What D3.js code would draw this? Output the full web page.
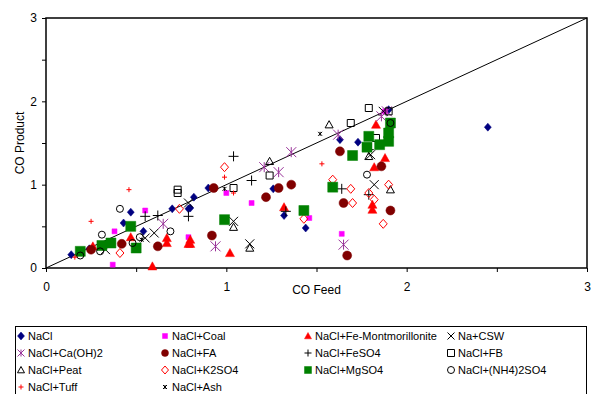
<!DOCTYPE html>
<html>
<head>
<meta charset="utf-8">
<script src="https://cdn.jsdelivr.net/npm/d3@7"></script>
<style>
  body { margin: 0; background: #fff; }
  svg { display: block; font-family: "Liberation Sans", Arial, sans-serif; }
</style>
</head>
<body>
<svg id="chart" width="592" height="394"></svg>
<script>
// series names (legend order) and the points: [CO feed, CO product]
const seriesNames = [
  'NaCl', 'NaCl+Coal', 'NaCl+Fe-Montmorillonite', 'Na+CSW',
  'NaCl+Ca(OH)2', 'NaCl+FA', 'NaCl+FeSO4', 'NaCl+FB',
  'NaCl+Peat', 'NaCl+K2SO4', 'NaCl+MgSO4', 'NaCl+(NH4)2SO4',
  'NaCl+Tuff', 'NaCl+Ash'
];

const naclPts = [[0.14,0.16],[0.24,0.23],[0.43,0.54],[0.47,0.67],[0.54,0.44],[0.70,0.71],[0.79,0.71],
  [0.82,0.85],[0.80,0.72],[0.90,0.96],[1.26,0.95],[1.32,0.63],[1.44,0.48],[1.63,1.54],[1.73,1.51],[1.90,1.90],[2.45,1.69]];
const coalPts = [[0.37,0.04],[0.38,0.44],[0.55,0.69],[0.79,0.37],[1.00,0.90],[1.14,0.78],[1.46,0.60],[1.64,0.41],[1.88,1.88]];
const femontPts = [[0.26,0.26],[0.47,0.37],[0.59,0.02],[0.67,0.36],[0.67,0.30],[0.79,0.29],[0.80,0.34],[0.80,0.29],
  [1.02,0.18],[1.32,0.73],[1.83,1.72],[1.88,1.32],[1.82,1.21],[1.81,0.76],[1.81,0.70]];
const cswPts = [[0.33,0.22],[0.55,0.36],[0.60,0.42],[0.79,0.78],[1.04,0.56],[1.13,0.29],[1.80,1.36],[1.82,1.00],[1.87,1.88]];
const caohPts = [[0.65,0.53],[0.94,0.26],[1.21,1.21],[1.29,1.15],[1.36,1.39],[1.62,1.60],[1.65,0.28],[1.86,1.82],[1.89,1.88]];
const faPts = [[0.25,0.22],[0.42,0.29],[0.62,0.26],[0.92,0.39],[0.93,0.96],[1.22,0.85],[1.29,0.96],[1.36,1.00],
  [1.63,1.40],[1.86,1.22],[1.65,0.78],[1.91,0.69],[1.67,0.15]];
const feso4Pts = [[0.55,0.62],[0.62,0.63],[0.79,0.62],[1.04,1.34],[1.14,1.05],[1.33,0.68],[1.64,0.95],[1.79,0.88],[1.79,1.42]];
const fbPts = [[0.73,0.94],[0.73,0.90],[1.04,0.96],[1.24,1.11],[1.69,1.74],[1.79,1.92],[1.83,1.56],[1.90,1.88]];
const peatPts = [[1.04,0.49],[1.13,0.24],[1.24,1.28],[1.57,1.72],[1.79,1.34],[1.91,0.94]];
const k2so4Pts = [[0.41,0.18],[0.74,0.71],[0.99,1.21],[1.43,0.59],[1.59,1.06],[1.69,0.95],[1.70,0.78],
  [1.79,0.90],[1.82,0.82],[1.90,1.00],[1.87,0.53]];
const mgso4Pts = [[0.19,0.20],[0.31,0.27],[0.36,0.30],[0.47,0.50],[0.50,0.24],[0.99,0.58],[1.43,0.69],[1.59,0.97],
  [1.70,1.35],[1.78,1.45],[1.79,1.58],[1.85,1.48],[1.90,1.62],[1.90,1.52],[1.91,1.74]];
const nh4Pts = [[0.19,0.15],[0.30,0.20],[0.31,0.40],[0.41,0.71],[0.48,0.30],[0.52,0.37],[0.69,0.44],[1.78,1.12],[1.91,1.74]];
const tuffPts = [[0.16,0.13],[0.25,0.56],[0.46,0.94],[0.99,1.09],[1.04,0.90],[1.53,1.25]];
const ashPts = [[0.99,0.95],[1.52,1.61],[0.53,0.34]];

const seriesPoints = [naclPts, coalPts, femontPts, cswPts, caohPts, faPts, feso4Pts, fbPts,
  peatPts, k2so4Pts, mgso4Pts, nh4Pts, tuffPts, ashPts];

const xTicks = [0, 0.5, 1, 1.5, 2, 2.5, 3];
const yTicks = [0, 0.5, 1, 1.5, 2, 2.5, 3];
const parityLine = [[0, 0], [3, 3]];

// marker style per series: shape, colour, size (px)
const markerStyles = [
  { shape: 'diamond', color: '#000080', size: 7, filled: true },
  { shape: 'square', color: '#ff00ff', size: 5, filled: true },
  { shape: 'triangle', color: '#ff0000', size: 9, filled: true },
  { shape: 'x', color: '#000000', size: 9 },
  { shape: 'asterisk', color: '#993399', size: 10 },
  { shape: 'circle', color: '#800000', size: 9, filled: true },
  { shape: 'plus', color: '#000000', size: 10 },
  { shape: 'square', color: '#000000', size: 7, filled: false },
  { shape: 'triangle', color: '#000000', size: 8, filled: false },
  { shape: 'diamond', color: '#ff0000', size: 8, filled: false },
  { shape: 'square', color: '#008000', size: 10, filled: true },
  { shape: 'circle', color: '#000000', size: 7, filled: false },
  { shape: 'plus', color: '#ff0000', size: 5 },
  { shape: 'star', color: '#000000', size: 4 }
];

const svg = d3.select('#chart');
const margin = { left: 46, right: 5, top: 18, bottom: 126 };
const x = d3.scaleLinear().domain([0, 3]).range([margin.left, 587]);
const y = d3.scaleLinear().domain([0, 3]).range([268, margin.top]);

function markerPath(shape, s) {
  const h = s / 2;
  switch (shape) {
    case 'diamond': return `M0,${-h - 0.5}L${h},0L0,${h + 0.5}L${-h},0Z`;
    case 'square': return `M${-h},${-h}H${h}V${h}H${-h}Z`;
    case 'triangle': return `M0,${-h}L${h},${h * 0.8}L${-h},${h * 0.8}Z`;
    case 'circle': return `M${h},0A${h},${h} 0 1,1 ${-h},0A${h},${h} 0 1,1 ${h},0Z`;
    case 'x': return `M${-h},${-h}L${h},${h}M${-h},${h}L${h},${-h}`;
    case 'plus': return `M${-h},0H${h}M0,${-h}V${h}`;
    case 'asterisk': return `M${-h},${-h}L${h},${h}M${-h},${h}L${h},${-h}M0,${-h}V${h}`;
    case 'star': return `M${-h},${-h}L${h},${h}M${-h},${h}L${h},${-h}M0,${-h}V${h}`;
  }
}

function drawMarker(sel, style) {
  const lineOnly = ['x', 'plus', 'asterisk', 'star'].includes(style.shape);
  sel.append('path')
    .attr('d', markerPath(style.shape, style.size))
    .attr('fill', lineOnly ? 'none' : (style.filled ? style.color : 'none'))
    .attr('stroke', style.color)
    .attr('stroke-width', lineOnly ? 1 : (style.filled ? 0.5 : 1));
}

// axes
const xAxis = d3.axisBottom(x)
  .tickValues(xTicks)
  .tickSize(4)
  .tickPadding(10)
  .tickFormat(d => Number.isInteger(d) ? d : '');
const yAxis = d3.axisLeft(y)
  .tickValues(yTicks)
  .tickSize(4)
  .tickPadding(5)
  .tickFormat(d => Number.isInteger(d) ? d : '');

const gx = svg.append('g').attr('transform', `translate(0,${y(0)})`).call(xAxis);
const gy = svg.append('g').attr('transform', `translate(${x(0)},0)`).call(yAxis);
[gx, gy].forEach(g => {
  g.select('.domain').remove();
  g.selectAll('line').attr('stroke', '#000');
  g.selectAll('text').attr('fill', '#000').style('font-size', '12px').style('font-family', '"Liberation Sans", Arial, sans-serif');
});

// plot frame
svg.append('rect')
  .attr('x', x(0)).attr('y', y(3))
  .attr('width', x(3) - x(0)).attr('height', y(0) - y(3))
  .attr('fill', 'none').attr('stroke', '#000').attr('stroke-width', 1.5);

// parity line
svg.append('path')
  .datum(parityLine)
  .attr('d', d3.line().x(d => x(d[0])).y(d => y(d[1])))
  .attr('stroke', '#000').attr('stroke-width', 1).attr('fill', 'none');

// points
seriesPoints.forEach((pts, i) => {
  const g = svg.append('g').attr('class', 'series');
  pts.forEach(p => {
    const m = g.append('g').attr('transform', `translate(${x(p[0])},${y(p[1])})`);
    drawMarker(m, markerStyles[i]);
  });
});

// axis titles
svg.append('text')
  .text('CO Feed')
  .attr('x', (x(0) + x(3)) / 2).attr('y', 294)
  .attr('text-anchor', 'middle')
  .style('font-size', '12px');
svg.append('text')
  .text('CO Product')
  .attr('transform', `translate(24,${(y(0) + y(3)) / 2}) rotate(-90)`)
  .attr('text-anchor', 'middle')
  .style('font-size', '12px');

// legend
const legendCols = [21, 165, 308, 451];
const legendRows = [336, 353, 370, 387];
svg.append('rect')
  .attr('x', 15.5).attr('y', 326.5)
  .attr('width', 571).attr('height', 80)
  .attr('fill', 'none').attr('stroke', '#000').attr('stroke-width', 1);

seriesNames.forEach((name, i) => {
  const cx = legendCols[i % 4];
  const cy = legendRows[Math.floor(i / 4)];
  const st = markerStyles[i];
  const item = svg.append('g').attr('transform', `translate(${cx},${cy})`);
  drawMarker(item.append('g'), Object.assign({}, st, { size: Math.min(st.size, 7) }));
  item.append('text')
    .text(name)
    .attr('x', 7).attr('dy', '0.35em')
    .style('font-size', '11px');
});
</script>
</body>
</html>
